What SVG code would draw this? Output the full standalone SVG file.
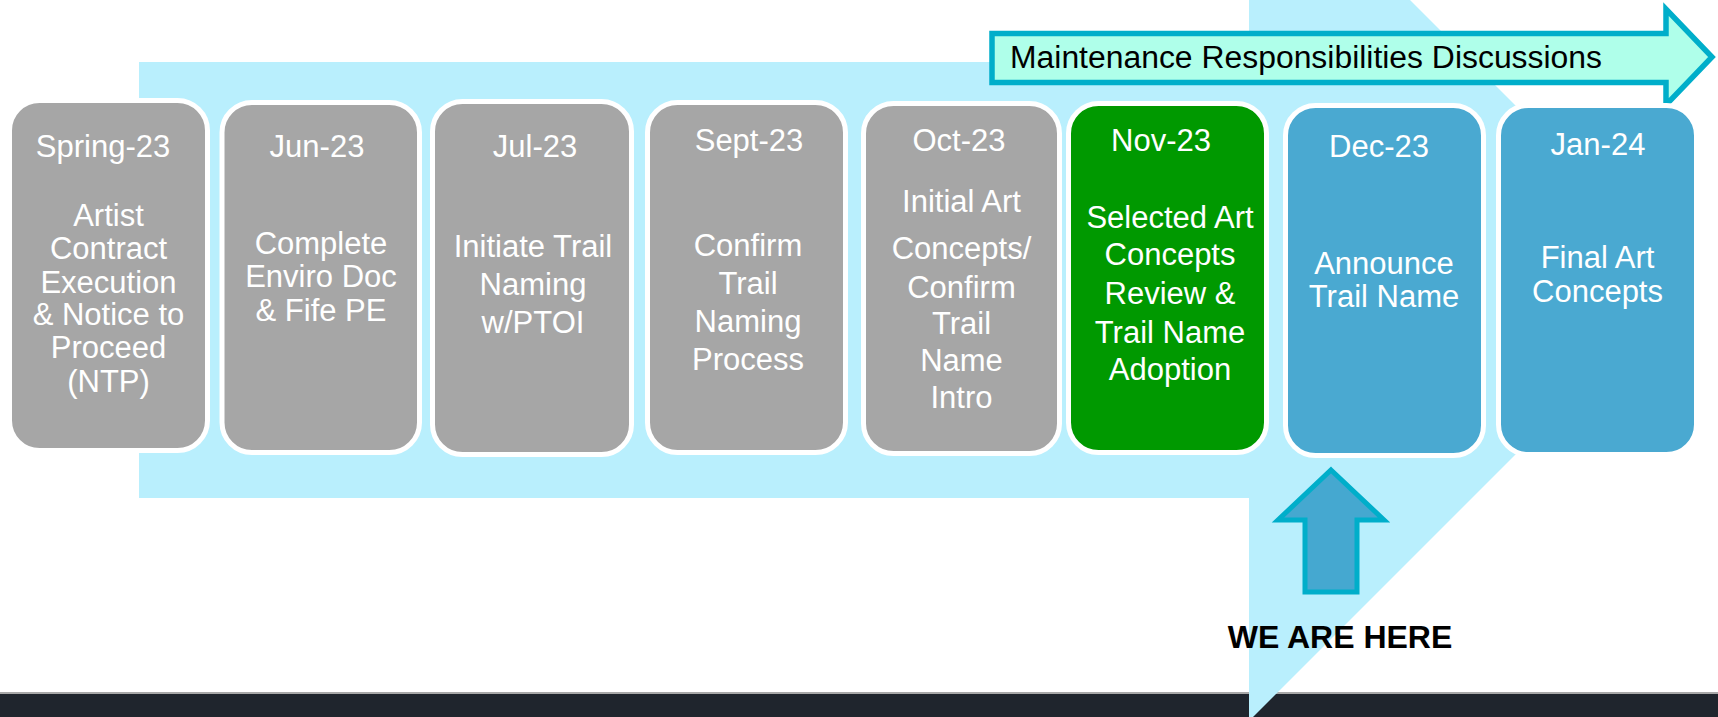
<svg xmlns="http://www.w3.org/2000/svg" width="1718" height="717" viewBox="0 0 1718 717">
<style>
.box{stroke:#FFFFFF;stroke-width:5}
.gray{fill:#A6A6A6}
.green{fill:#009900}
.blue{fill:#4AA9D1}
.t{font-family:"Liberation Sans",Arial,sans-serif;font-size:31px;fill:#FFFFFF;text-anchor:middle}
.lbl{font-family:"Liberation Sans",Arial,sans-serif;font-size:31px;fill:#000000}
.here{font-family:"Liberation Sans",Arial,sans-serif;font-size:32px;font-weight:bold;fill:#000000;text-anchor:middle}
</style>
<rect x="0" y="0" width="1718" height="717" fill="#FFFFFF"/>
<g id="footer">
<rect x="0" y="692" width="1718" height="25" fill="#1F252D"/>
<rect x="0" y="692" width="1718" height="2" fill="#A8A8A8"/>
</g>
<g id="timeline-arrow">
<polygon points="139,62 1249,62 1249,-161 1690,280 1249,721 1249,498 139,498" fill="#B9EFFD"/>
</g>
<g id="maintenance">
<polygon points="992,33.5 1666,33.5 1666,9 1712,57 1666,105 1666,82.5 992,82.5" fill="#AFFFEA" stroke="#00AECA" stroke-width="5.5"/>
<text class="lbl" x="1010" y="68" textLength="592" lengthAdjust="spacingAndGlyphs">Maintenance Responsibilities Discussions</text>
</g>
<g id="box-spring23">
<rect class="box gray" x="9.5" y="100.5" width="198" height="350" rx="30"/>
<text class="t" x="103" y="157">Spring-23</text>
<text class="t" x="108.5" y="226">Artist</text>
<text class="t" x="108.5" y="259">Contract</text>
<text class="t" x="108.5" y="293">Execution</text>
<text class="t" x="108.5" y="325">&amp; Notice to</text>
<text class="t" x="108.5" y="358">Proceed</text>
<text class="t" x="108.5" y="392">(NTP)</text>
</g>
<g id="box-jun23">
<rect class="box gray" x="222" y="102.5" width="197.5" height="350" rx="30"/>
<text class="t" x="317" y="157">Jun-23</text>
<text class="t" x="321" y="254">Complete</text>
<text class="t" x="321" y="287">Enviro Doc</text>
<text class="t" x="321" y="321">&amp; Fife PE</text>
</g>
<g id="box-jul23">
<rect class="box gray" x="432.5" y="101.5" width="199" height="353" rx="30"/>
<text class="t" x="535" y="157">Jul-23</text>
<text class="t" x="533" y="257">Initiate Trail</text>
<text class="t" x="533" y="295">Naming</text>
<text class="t" x="533" y="333">w/PTOI</text>
</g>
<g id="box-sept23">
<rect class="box gray" x="647.5" y="102.5" width="198" height="350" rx="30"/>
<text class="t" x="749" y="151">Sept-23</text>
<text class="t" x="748" y="256">Confirm</text>
<text class="t" x="748" y="294">Trail</text>
<text class="t" x="748" y="332">Naming</text>
<text class="t" x="748" y="370">Process</text>
</g>
<g id="box-oct23">
<rect class="box gray" x="863.5" y="103.5" width="196" height="350" rx="30"/>
<text class="t" x="959" y="151">Oct-23</text>
<text class="t" x="961.5" y="212">Initial Art</text>
<text class="t" x="961.5" y="259">Concepts/</text>
<text class="t" x="961.5" y="298">Confirm</text>
<text class="t" x="961.5" y="334">Trail</text>
<text class="t" x="961.5" y="371">Name</text>
<text class="t" x="961.5" y="408">Intro</text>
</g>
<g id="box-nov23">
<rect class="box green" x="1068.5" y="103.5" width="198" height="349" rx="30"/>
<text class="t" x="1161" y="151">Nov-23</text>
<text class="t" x="1170" y="228">Selected Art</text>
<text class="t" x="1170" y="265">Concepts</text>
<text class="t" x="1170" y="304">Review &amp;</text>
<text class="t" x="1170" y="343">Trail Name</text>
<text class="t" x="1170" y="380">Adoption</text>
</g>
<g id="box-dec23">
<rect class="box blue" x="1285.5" y="105.5" width="198" height="350" rx="30"/>
<text class="t" x="1379" y="157">Dec-23</text>
<text class="t" x="1384" y="274">Announce</text>
<text class="t" x="1384" y="307">Trail Name</text>
</g>
<g id="box-jan24">
<rect class="box blue" x="1498.5" y="105.5" width="198" height="349" rx="30"/>
<text class="t" x="1598" y="155">Jan-24</text>
<text class="t" x="1597.5" y="268">Final Art</text>
<text class="t" x="1597.5" y="302">Concepts</text>
</g>
<g id="we-are-here">
<polygon points="1331,470 1384,520 1357,520 1357,592 1305,592 1305,520 1278,520" fill="#45A8D0" stroke="#00AECA" stroke-width="5"/>
<text class="here" x="1340" y="648">WE ARE HERE</text>
</g>
</svg>
